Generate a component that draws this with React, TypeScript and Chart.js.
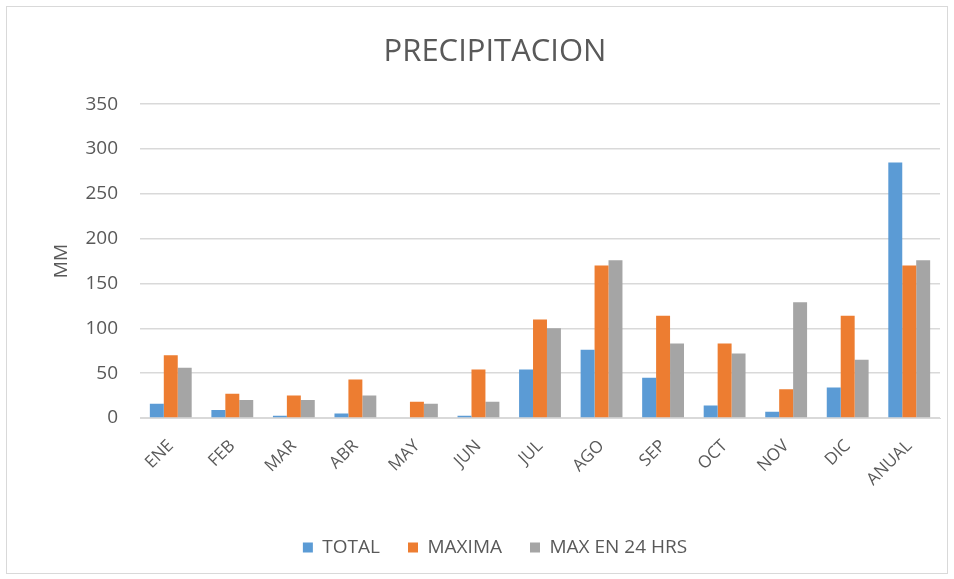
import React, { useEffect, useRef } from "react";
import { Chart, registerables } from "chart.js";

Chart.register(...registerables);

const categories = ["ENE", "FEB", "MAR", "ABR", "MAY", "JUN", "JUL", "AGO", "SEP", "OCT", "NOV", "DIC", "ANUAL"];
const total = [16, 9, 2.5, 5, 0, 2.5, 54, 76, 45, 14, 7, 34, 285];
const maxima = [70, 27, 25, 43, 18, 54, 110, 170, 114, 83, 32, 114, 170];
const max24 = [56, 20, 20, 25, 16, 18, 100, 176, 83, 72, 129, 65, 176];
const yTicks = [0, 50, 100, 150, 200, 250, 300, 350];

const FONT = "'Open Sans', Lato, sans-serif";
const TEXT = "#595959";

export default function App() {
  const ref = useRef<HTMLCanvasElement>(null);

  useEffect(() => {
    if (!ref.current) return;
    const chart = new Chart(ref.current, {
      type: "bar",
      data: {
        labels: categories,
        datasets: [
          { label: "TOTAL", data: total, backgroundColor: "#5B9BD5" },
          { label: "MAXIMA", data: maxima, backgroundColor: "#ED7D31" },
          { label: "MAX EN 24 HRS", data: max24, backgroundColor: "#A5A5A5" },
        ],
      },
      options: {
        animation: false,
        responsive: false,
        layout: { padding: { left: 50, right: 14, top: 34, bottom: 12 } },
        datasets: { bar: { categoryPercentage: 0.68, barPercentage: 1 } },
        plugins: {
          title: {
            display: true,
            text: "PRECIPITACION",
            color: TEXT,
            font: { family: FONT, size: 31, weight: "normal" },
            padding: { top: 0, bottom: 33 },
          },
          legend: {
            position: "bottom",
            labels: {
              color: TEXT,
              boxWidth: 10,
              boxHeight: 10,
              padding: 28,
              font: { family: FONT, size: 19 },
            },
          },
          tooltip: { enabled: false },
        },
        scales: {
          x: {
            grid: { display: false },
            border: { display: true, color: "#D9D9D9" },
            ticks: {
              color: TEXT,
              minRotation: 45,
              maxRotation: 45,
              padding: 10,
              font: { family: FONT, size: 17 },
            },
            afterFit: (s: any) => {
              s.height = 92;
            },
          },
          y: {
            min: 0,
            max: 350,
            afterBuildTicks: (s: any) => {
              s.ticks = yTicks.map((v) => ({ value: v }));
            },
            grid: { color: "#D9D9D9", drawTicks: false, lineWidth: 1.5 },
            border: { display: false },
            ticks: {
              color: TEXT,
              padding: 22,
              font: { family: FONT, size: 19 },
            },
            title: {
              display: true,
              text: "MM",
              color: TEXT,
              font: { family: FONT, size: 19 },
              padding: 0,
            },
            afterFit: (s: any) => {
              s.width = 90;
            },
          },
        },
      },
    });
    return () => chart.destroy();
  }, []);

  return (
    <div style={{ position: "absolute", left: 0, top: 0, width: 954, height: 579, background: "#fff" }}>
      <div
        style={{
          position: "absolute",
          left: 6,
          top: 6,
          width: 940,
          height: 566,
          border: "1px solid #D9D9D9",
        }}
      />
      <canvas ref={ref} width={954} height={579} style={{ position: "absolute", left: 0, top: 0 }} />
    </div>
  );
}
